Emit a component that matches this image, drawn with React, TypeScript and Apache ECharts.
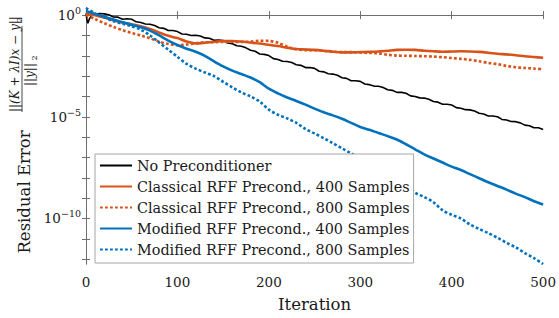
import React, { useEffect, useRef } from "react";
import * as echarts from "echarts";

const iterations = [
  0, 10, 20, 30, 40, 50, 60, 70, 80, 90, 100, 110, 120, 130, 140, 150, 160, 170, 180, 190,
  200, 210, 220, 230, 240, 250, 260, 270, 280, 290, 300, 310, 320, 330, 340, 350, 360, 370,
  380, 390, 400, 410, 420, 430, 440, 450, 460, 470, 480, 490, 500,
];
const classical400 = [
  0.05, 0.0, -0.12, -0.25, -0.36, -0.45, -0.55, -0.68, -0.86, -1.02, -1.13, -1.3, -1.39, -1.36,
  -1.31, -1.27, -1.27, -1.3, -1.35, -1.4, -1.46, -1.52, -1.6, -1.67, -1.69, -1.71, -1.75, -1.8,
  -1.83, -1.83, -1.82, -1.81, -1.79, -1.75, -1.71, -1.7, -1.71, -1.75, -1.78, -1.8, -1.79, -1.78,
  -1.79, -1.81, -1.85, -1.9, -1.93, -1.97, -2.02, -2.06, -2.1,
];
const classical800 = [
  0.0, -0.2, -0.4, -0.58, -0.74, -0.88, -1.0, -1.14, -1.3, -1.42, -1.48, -1.45, -1.38, -1.34,
  -1.33, -1.32, -1.32, -1.32, -1.3, -1.26, -1.27, -1.36, -1.55, -1.68, -1.72, -1.73, -1.76, -1.8,
  -1.82, -1.82, -1.84, -1.86, -1.88, -1.95, -1.99, -2.0, -2.01, -2.02, -2.04, -2.07, -2.11, -2.15,
  -2.2, -2.27, -2.35, -2.41, -2.5, -2.56, -2.6, -2.63, -2.66,
];
const modified400 = [
  0.2, 0.05, -0.08, -0.22, -0.35, -0.48, -0.6, -0.76, -1.0, -1.25, -1.47, -1.65, -1.8, -2.0,
  -2.27, -2.52, -2.73, -2.9, -3.07, -3.3, -3.62, -3.85, -4.05, -4.22, -4.4, -4.6, -4.78, -4.93,
  -5.1, -5.3, -5.5, -5.64, -5.8, -5.95, -6.12, -6.35, -6.6, -6.85, -7.05, -7.25, -7.45, -7.62,
  -7.82, -8.02, -8.22, -8.4, -8.58, -8.78, -8.95, -9.15, -9.31,
];
const modified800 = [
  0.35, 0.08, -0.1, -0.3, -0.42, -0.55, -0.72, -1.0, -1.35, -1.7, -2.05, -2.4, -2.63, -2.82,
  -3.0, -3.28, -3.55, -3.8, -4.0, -4.25, -4.65, -4.9, -5.08, -5.3, -5.6, -5.82, -6.05, -6.3,
  -6.55, -6.8, -7.05, -7.3, -7.55, -7.8, -8.05, -8.4, -8.74, -8.95, -9.2, -9.6, -9.82, -10.0,
  -10.3, -10.52, -10.72, -10.95, -11.2, -11.42, -11.7, -11.95, -12.24,
];
const plainIterations = [
  0, 1, 2, 3, 4, 6, 8, 10, 15, 20, 25, 30, 35, 40, 45, 50, 55, 60, 65, 70, 75, 80, 85, 90, 95,
  100, 105, 110, 115, 120, 125, 130, 135, 140, 145, 150, 155, 160, 165, 170, 175, 180, 185, 190,
  195, 200, 205, 210, 215, 220, 225, 230, 235, 240, 245, 250, 255, 260, 265, 270, 275, 280, 285,
  290, 295, 300, 305, 310, 315, 320, 325, 330, 335, 340, 345, 350, 355, 360, 365, 370, 375, 380,
  385, 390, 395, 400, 405, 410, 415, 420, 425, 430, 435, 440, 445, 450, 455, 460, 465, 470, 475,
  480, 485, 490, 495, 500,
];
const plainResidual = [
  0.08, -0.2, -0.4, -0.28, -0.15, -0.04, 0.03, 0.05, 0.08, 0.06, 0.02, -0.09, -0.1, -0.2, -0.18,
  -0.2, -0.33, -0.36, -0.44, -0.45, -0.51, -0.62, -0.65, -0.76, -0.76, -0.81, -0.93, -0.94, -1.0,
  -0.99, -1.03, -1.12, -1.14, -1.24, -1.22, -1.25, -1.37, -1.41, -1.51, -1.53, -1.61, -1.73,
  -1.78, -1.91, -1.93, -1.99, -2.14, -2.18, -2.27, -2.28, -2.33, -2.44, -2.47, -2.58, -2.58,
  -2.62, -2.76, -2.79, -2.88, -2.9, -2.96, -3.08, -3.11, -3.23, -3.23, -3.26, -3.39, -3.42, -3.49,
  -3.5, -3.56, -3.67, -3.7, -3.8, -3.8, -3.84, -3.97, -4.0, -4.07, -4.08, -4.14, -4.25, -4.28,
  -4.38, -4.38, -4.42, -4.55, -4.58, -4.65, -4.66, -4.72, -4.83, -4.86, -4.96, -4.96, -5.0, -5.13,
  -5.16, -5.23, -5.24, -5.3, -5.41, -5.44, -5.54, -5.54, -5.62,
];

const xTicks = [0, 100, 200, 300, 400, 500];
const yTickExponents = [0, -1, -2, -3, -4, -5, -6, -7, -8, -9, -10, -11, -12];
const yLabelExponents = [0, -5, -10];
const legendNames = [
  "No Preconditioner",
  "Classical RFF Precond., 400 Samples",
  "Classical RFF Precond., 800 Samples",
  "Modified RFF Precond., 400 Samples",
  "Modified RFF Precond., 800 Samples",
];

const FONT = "DejaVu Serif";
const AXIS_COLOR = "#6e6e6e";
const TEXT_COLOR = "#1a1a1a";
const ORANGE = "#D95319";
const BLUE = "#0072BD";

const pairs = (xs: number[], ys: number[]) => xs.map((x, i) => [x, ys[i]]);

const vText = (
  text: string,
  x: number,
  y: number,
  size: number,
  italic: boolean,
  align: "left" | "center" = "center"
) => ({
  type: "text",
  x,
  y,
  rotation: Math.PI / 2,
  style: {
    text,
    fontSize: size,
    fontFamily: FONT,
    fontStyle: italic ? "italic" : "normal",
    fill: TEXT_COLOR,
    align,
    verticalAlign: "middle",
  },
});

export default function App() {
  const ref = useRef<HTMLDivElement>(null);
  useEffect(() => {
    const chart = echarts.init(ref.current!, null, { renderer: "svg" });
    const yMin = -12.24;
    const yMax = 0.35;
    const dotted = [2.8, 2.2];
    const baseY = {
      type: "value" as const,
      min: yMin,
      max: yMax,
      splitLine: { show: false },
      axisLine: { show: true, lineStyle: { color: AXIS_COLOR, width: 1 } },
      axisTick: {
        show: true,
        inside: true,
        length: 4,
        customValues: yTickExponents,
        lineStyle: { color: AXIS_COLOR, width: 1 },
      },
    };
    const baseX = {
      type: "value" as const,
      min: xTicks[0],
      max: xTicks[xTicks.length - 1],
      interval: 100,
      splitLine: { show: false },
      axisLine: { show: true, lineStyle: { color: AXIS_COLOR, width: 1 } },
      axisTick: { show: true, inside: true, length: 4, lineStyle: { color: AXIS_COLOR, width: 1 } },
    };
    chart.setOption({
      animation: false,
      backgroundColor: "#ffffff",
      grid: { left: 86, right: 13, top: 8, bottom: 48, containLabel: false },
      xAxis: [
        {
          ...baseX,
          position: "bottom",
          name: "Iteration",
          nameLocation: "middle",
          nameGap: 32,
          nameTextStyle: { fontFamily: FONT, fontSize: 16.5, color: TEXT_COLOR },
          axisLabel: { margin: 11, fontFamily: FONT, fontSize: 13.5, color: TEXT_COLOR },
        },
        { ...baseX, position: "top", axisLabel: { show: false } },
      ],
      yAxis: [
        {
          ...baseY,
          position: "left",
          axisLabel: {
            show: true,
            margin: 5,
            customValues: yLabelExponents,
            formatter: (v: number) =>
              `{b|10}{s|${v === 0 ? "0" : "\u2212" + Math.abs(v)}}`,
            rich: {
              b: { fontFamily: FONT, fontSize: 13.5, color: TEXT_COLOR, lineHeight: 16 },
              s: {
                fontFamily: FONT,
                fontSize: 9.5,
                color: TEXT_COLOR,
                padding: [0, 0, 9, 0],
              },
            },
          },
        },
        { ...baseY, position: "right", axisLabel: { show: false } },
      ],
      legend: {
        orient: "vertical",
        left: 95,
        top: 154,
        data: legendNames,
        itemWidth: 32,
        itemHeight: 10,
        itemGap: 4,
        padding: [3, 4, 5, 4],
        backgroundColor: "#ffffff",
        borderColor: "#a6a6a6",
        borderWidth: 1,
        borderRadius: 0,
        itemStyle: { opacity: 0 },
        textStyle: { fontFamily: FONT, fontSize: 14.4, color: TEXT_COLOR, lineHeight: 17 },
        z: 10,
      },
      graphic: [
        vText("Residual Error", 24, 192, 16.5, false),
        vText("||(K + \u03BBI)x \u2212 y||", 15, 112, 12, true, "left"),
        vText("2", 19.5, 20, 8, false),
        {
          type: "line",
          shape: { x1: 22, y1: 26, x2: 22, y2: 112 },
          style: { stroke: TEXT_COLOR, lineWidth: 0.8 },
        },
        vText("||y||", 29.5, 86, 12, true, "left"),
        vText("2", 34, 58, 8, false),
      ],
      series: [
        {
          name: legendNames[0],
          type: "line",
          data: pairs(plainIterations, plainResidual),
          showSymbol: false,
          symbol: "none",
          lineStyle: { color: "#000000", width: 1.6 },
          itemStyle: { color: "#000000" },
        },
        {
          name: legendNames[1],
          type: "line",
          data: pairs(iterations, classical400),
          showSymbol: false,
          symbol: "none",
          smooth: 0.3,
          lineStyle: { color: ORANGE, width: 2.6 },
          itemStyle: { color: ORANGE },
        },
        {
          name: legendNames[2],
          type: "line",
          data: pairs(iterations, classical800),
          showSymbol: false,
          symbol: "none",
          smooth: 0.3,
          lineStyle: { color: ORANGE, width: 2.6, type: dotted, cap: "butt" },
          itemStyle: { color: ORANGE },
        },
        {
          name: legendNames[3],
          type: "line",
          data: pairs(iterations, modified400),
          showSymbol: false,
          symbol: "none",
          smooth: 0.3,
          lineStyle: { color: BLUE, width: 2.6 },
          itemStyle: { color: BLUE },
        },
        {
          name: legendNames[4],
          type: "line",
          data: pairs(iterations, modified800),
          showSymbol: false,
          symbol: "none",
          smooth: 0.3,
          lineStyle: { color: BLUE, width: 2.6, type: dotted, cap: "butt" },
          itemStyle: { color: BLUE },
        },
      ],
    });
    return () => chart.dispose();
  }, []);
  return (
    <div
      ref={ref}
      style={{ position: "absolute", left: 0, top: 0, width: 559, height: 318 }}
    />
  );
}
